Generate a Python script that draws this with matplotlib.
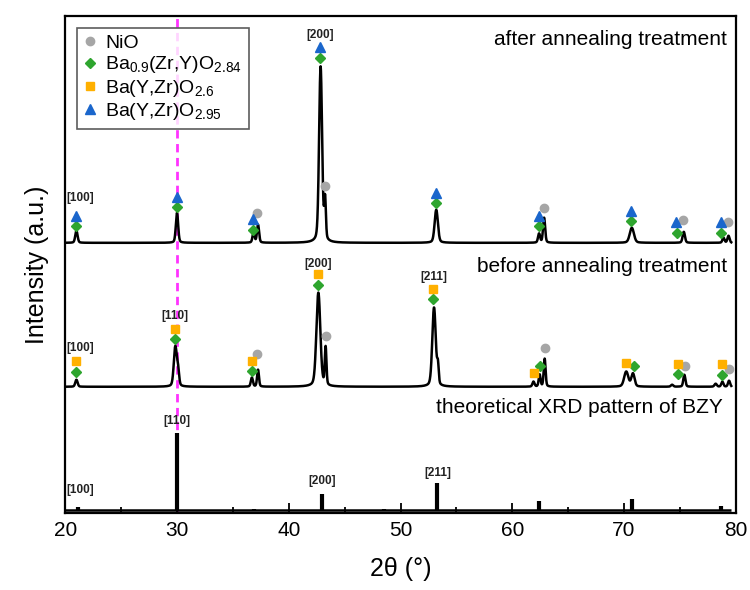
import numpy as np
import matplotlib.pyplot as plt
from matplotlib.ticker import MultipleLocator
from matplotlib.lines import Line2D

plt.rcParams['font.family'] = ['Liberation Sans', 'DejaVu Sans']
plt.rcParams['mathtext.fontset'] = 'custom'
plt.rcParams['mathtext.rm'] = 'Liberation Sans'
plt.rcParams['mathtext.default'] = 'regular'

# ---- peak lists (2theta, height, width) ----
after_pos = [21.0, 30.0, 36.85, 37.25, 42.85, 43.25, 53.2, 62.4, 62.85, 70.7, 75.35, 78.9, 79.35]
after_h = [12, 30, 10, 18, 176, 40, 33, 9, 25, 15, 11, 5, 7]
after_w = [0.10, 0.10, 0.09, 0.09, 0.13, 0.07, 0.14, 0.09, 0.09, 0.18, 0.10, 0.09, 0.09]
after_base = 270

before_pos = [21.0, 29.85, 30.1, 36.7, 37.25, 42.65, 43.3, 53.0, 53.35, 61.9, 62.45, 62.9,
              70.2, 70.8, 74.3, 75.4, 78.2, 78.8, 79.4]
before_h = [7, 40, 14, 9, 17, 94, 38, 79, 18, 5, 12, 28, 15, 13, 2, 12, 3, 5, 6]
before_w = [0.10, 0.13, 0.09, 0.09, 0.08, 0.17, 0.07, 0.15, 0.07, 0.09, 0.08, 0.08,
            0.18, 0.14, 0.1, 0.09, 0.1, 0.09, 0.09]
before_base = 126

theo_pos = [21.1, 30.0, 36.9, 43.0, 48.5, 53.3, 62.4, 70.7, 78.7]
theo_h = [3, 77, 1, 16, 1, 27, 9, 11, 4]
theo_base = 3

# ---- phase markers (2theta, y) ----
nio_x = [37.2, 43.25, 62.85, 75.3, 79.3, 37.2, 43.3, 62.9, 75.5, 79.36]
nio_y = [300, 327, 305, 293, 291, 159, 177, 165, 147, 144]
bzy84_x = [21.0, 30.0, 36.8, 42.8, 53.2, 62.4, 70.6, 74.7, 78.65,
           21.0, 29.85, 36.7, 42.63, 52.95, 62.5, 70.9, 74.85, 78.76]
bzy84_y = [287, 306, 283, 455, 310, 287, 292, 280, 280,
           141, 174, 142, 228, 214, 147, 147, 139, 138]
byz26_x = [21.0, 29.85, 36.7, 42.63, 52.95, 61.98, 70.18, 74.85, 78.76]
byz26_y = [152, 184, 152, 239, 224, 140, 150, 149, 149]
byz295_x = [21.0, 30.0, 36.8, 42.8, 53.2, 62.4, 70.6, 74.65, 78.65]
byz295_y = [297, 316, 294, 466, 320, 297, 302, 291, 291]

hkl_text = ['[100]', '[200]', '[100]', '[110]', '[200]', '[211]', '[100]', '[110]', '[200]', '[211]']
hkl_x = [21.35, 42.8, 21.35, 29.85, 42.66, 52.95, 21.35, 30.0, 43.0, 53.3]
hkl_y = [315, 478, 165, 197, 249, 236, 23, 92, 32, 40]

c_nio = '#a6a6a6'
c_green = '#2ea52e'
c_orange = '#ffb000'
c_blue = '#1a66cc'


def pattern(x, pos, h, w, base):
    y = np.full_like(x, base, dtype=float)
    for p, a, s in zip(pos, h, w):
        g = np.exp(-0.5 * ((x - p) / s) ** 2)
        l = 1 / (1 + ((x - p) / (1.6 * s)) ** 2)
        y += a * (0.8 * g + 0.2 * l)
    return y


x = np.linspace(20.0, 79.6, 6000)

fig = plt.figure(figsize=(7.5, 5.9), dpi=100)
ax = fig.add_axes([0.087, 0.131, 0.894, 0.842])

ax.axvline(30, color='#ff33ff', ls=(0, (3, 2)), lw=2, zorder=1)

ax.plot(x, pattern(x, after_pos, after_h, after_w, after_base), color='k', lw=1.8, zorder=2)
ax.plot(x, pattern(x, before_pos, before_h, before_w, before_base), color='k', lw=1.8, zorder=2)
ax.hlines(theo_base, 20, 79.6, color='k', lw=1.8, zorder=2)
ax.vlines(theo_pos, theo_base, np.array(theo_h) + theo_base, color='k', lw=3, zorder=2)

ax.plot(nio_x, nio_y, 'o', color=c_nio, ms=6, ls='none', zorder=3)
ax.plot(bzy84_x, bzy84_y, 'D', color=c_green, ms=5.5, ls='none', zorder=3)
ax.plot(byz26_x, byz26_y, 's', color=c_orange, ms=5.5, ls='none', zorder=3)
ax.plot(byz295_x, byz295_y, '^', color=c_blue, ms=7, ls='none', zorder=3)

for t, xx, yy in zip(hkl_text, hkl_x, hkl_y):
    ax.text(xx, yy, t, ha='center', va='center', fontsize=8.5, color='#222222',
            fontweight='bold')

ax.text(79.2, 473, 'after annealing treatment', ha='right', va='center', fontsize=15)
ax.text(79.2, 246, 'before annealing treatment', ha='right', va='center', fontsize=15)
ax.text(78.8, 105, 'theoretical XRD pattern of BZY', ha='right', va='center', fontsize=15)

handles = [
    Line2D([], [], marker='o', color=c_nio, ls='none', ms=6),
    Line2D([], [], marker='D', color=c_green, ls='none', ms=5.5),
    Line2D([], [], marker='s', color=c_orange, ls='none', ms=5.5),
    Line2D([], [], marker='^', color=c_blue, ls='none', ms=7),
]
labels = ['NiO', r'Ba$_{0.9}$(Zr,Y)O$_{2.84}$', r'Ba(Y,Zr)O$_{2.6}$', r'Ba(Y,Zr)O$_{2.95}$']
leg = ax.legend(handles, labels, loc='upper left', bbox_to_anchor=(0.0, 1.0), fontsize=14,
                frameon=True, fancybox=False, edgecolor='#333333', handlelength=0.6,
                handletextpad=0.5, borderpad=0.35, labelspacing=0.12, borderaxespad=0.6)
leg.get_frame().set_linewidth(1.2)
leg.set_zorder(5)

ax.set_xlim(20, 80)
ax.set_ylim(0, 497)
ax.set_yticks([])
ax.xaxis.set_major_locator(MultipleLocator(10))
ax.xaxis.set_minor_locator(MultipleLocator(5))
ax.tick_params(axis='x', which='major', direction='in', length=7, width=1.3, labelsize=15,
               pad=6)
ax.tick_params(axis='x', which='minor', direction='in', length=4, width=1.3)
for s in ax.spines.values():
    s.set_linewidth(1.6)

ax.set_xlabel('2θ (°)', fontsize=18, labelpad=12)
ax.set_ylabel('Intensity (a.u.)', fontsize=18, labelpad=12)

plt.savefig('out.png', dpi=100)
